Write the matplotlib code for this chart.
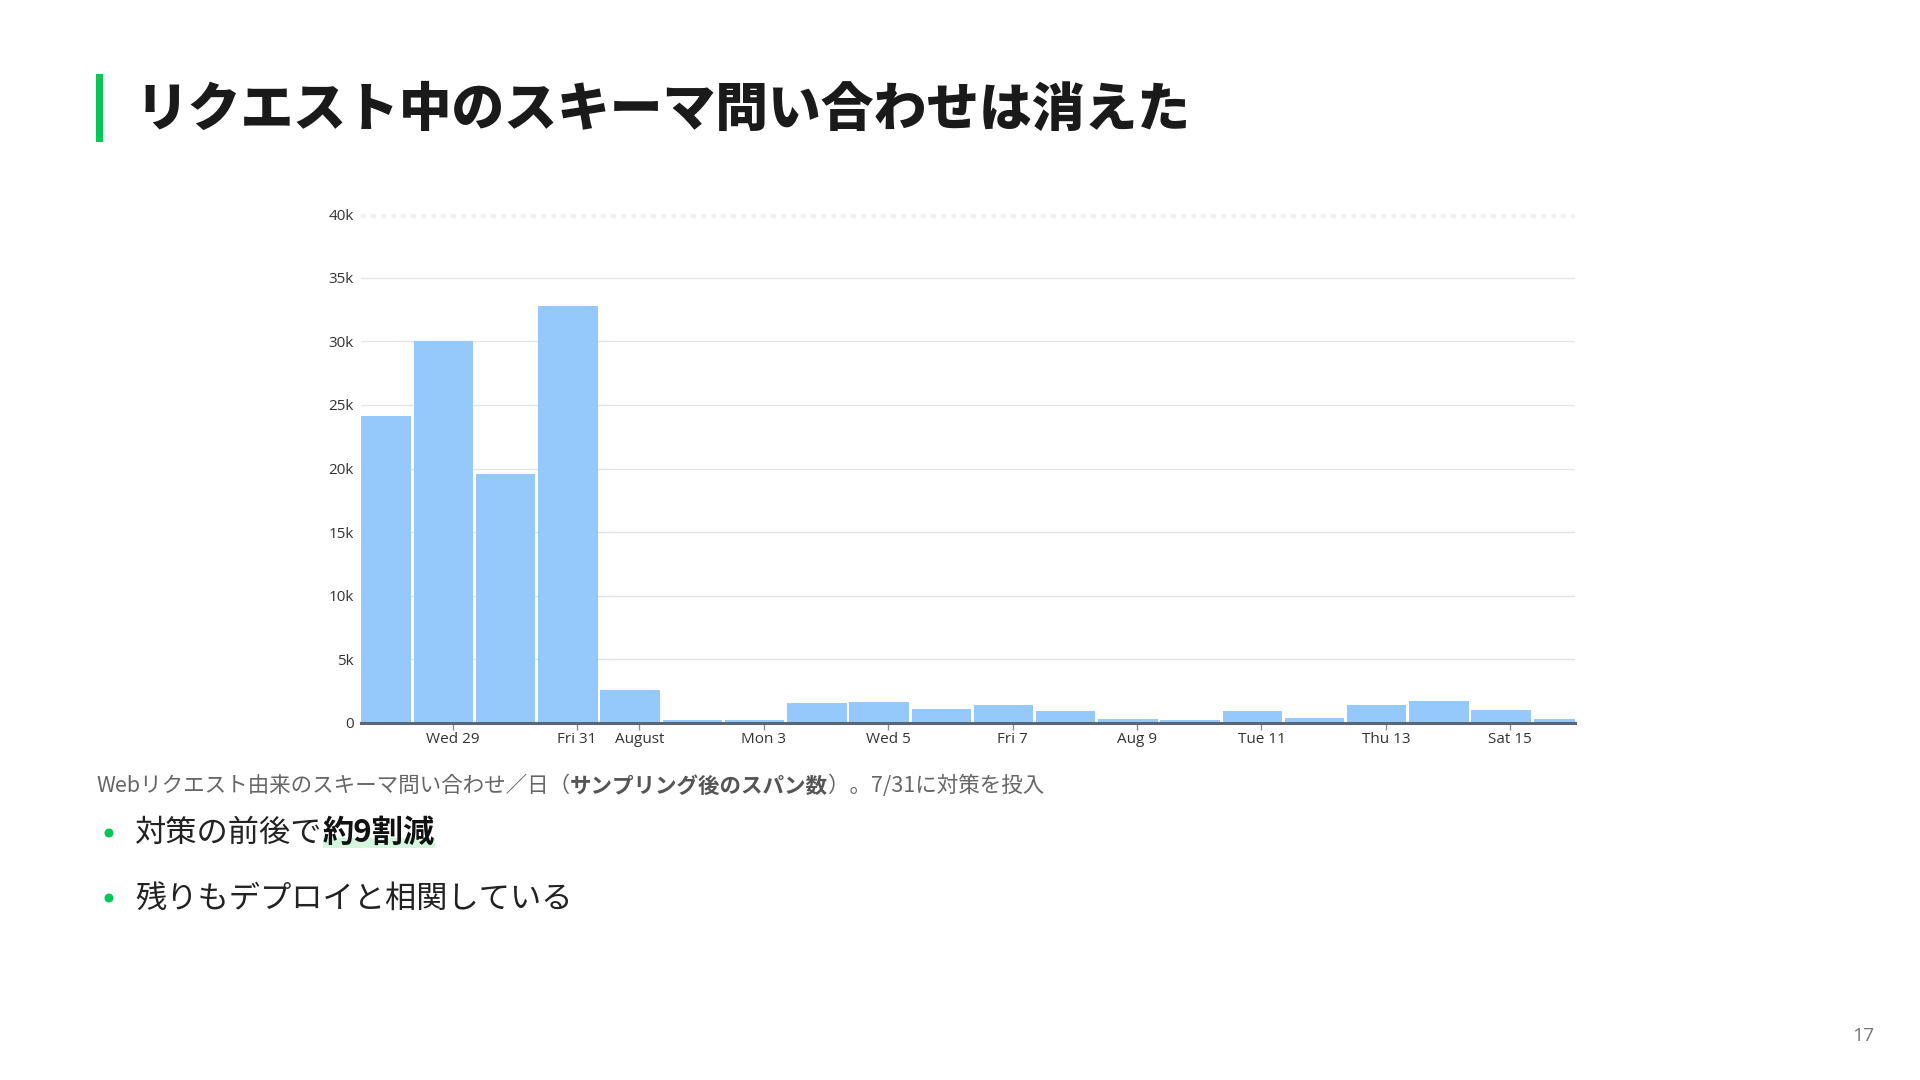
import matplotlib
matplotlib.use("Agg")
import matplotlib.pyplot as plt
from matplotlib.patches import Rectangle, Ellipse
from datetime import datetime, timedelta

# ---------------- data ----------------
bucket_starts = [
    "2020-07-27 09:00", "2020-07-28 09:00", "2020-07-29 09:00", "2020-07-30 09:00",
    "2020-07-31 09:00", "2020-08-01 09:00", "2020-08-02 09:00", "2020-08-03 09:00",
    "2020-08-04 09:00", "2020-08-05 09:00", "2020-08-06 09:00", "2020-08-07 09:00",
    "2020-08-08 09:00", "2020-08-09 09:00", "2020-08-10 09:00", "2020-08-11 09:00",
    "2020-08-12 09:00", "2020-08-13 09:00", "2020-08-14 09:00", "2020-08-15 09:00",
]
span_counts = [24100, 30000, 19550, 32800, 2580, 210, 210, 1580, 1660, 1080,
               1390, 950, 290, 210, 950, 390, 1390, 1740, 1030, 320]

x_tick_dates = ["2020-07-29", "2020-07-31", "2020-08-01", "2020-08-03", "2020-08-05",
                "2020-08-07", "2020-08-09", "2020-08-11", "2020-08-13", "2020-08-15"]
x_tick_labels = ["Wed 29", "Fri 31", "August", "Mon 3", "Wed 5",
                 "Fri 7", "Aug 9", "Tue 11", "Thu 13", "Sat 15"]
y_ticks = [0, 5000, 10000, 15000, 20000, 25000, 30000, 35000, 40000]
y_tick_labels = ["0", "5k", "10k", "15k", "20k", "25k", "30k", "35k", "40k"]

title = "リクエスト中のスキーマ問い合わせは消えた"
caption_parts = [("Webリクエスト由来のスキーマ問い合わせ／日（", False),
                 ("サンプリング後のスパン数", True),
                 ("）。7/31に対策を投入", False)]
bullet1_parts = [("対策の前後で", False), ("約9割減", True)]
bullet2 = "残りもデプロイと相関している"
page_no = "17"

# ---------------- style ----------------
plt.rcParams['font.family'] = ['Noto Sans CJK JP', 'DejaVu Sans']
W, H = 1920, 1080
fig = plt.figure(figsize=(W / 100, H / 100), dpi=100)
fig.patch.set_facecolor("white")

def fx(px):
    return px / W

def fy(py):
    return 1 - py / H

BAR_COLOR = "#96c9fb"
AXIS_COLOR = "#5b6573"
GREEN = "#06c755"

ax = fig.add_axes([fx(361), fy(723), fx(1575 - 361), (723 - 214) / H])
starts = [datetime.strptime(s, "%Y-%m-%d %H:%M") for s in bucket_starts]
ax.bar(starts, span_counts, width=0.955, align="edge", color=BAR_COLOR, zorder=2)

x0 = datetime(2020, 7, 28) - timedelta(days=0.474)
x1 = datetime(2020, 7, 28) + timedelta(days=19.04)
ax.set_xlim(x0, x1)
ax.set_ylim(0, 40000)

ax.set_yticks(y_ticks)
ax.set_yticklabels(y_tick_labels)
ticks = [datetime.strptime(s, "%Y-%m-%d") for s in x_tick_dates]
ax.set_xticks(ticks)
ax.set_xticklabels(x_tick_labels)

for s in ["top", "right", "left"]:
    ax.spines[s].set_visible(False)
ax.spines["bottom"].set_color(AXIS_COLOR)
ax.spines["bottom"].set_linewidth(2.2)
ax.spines["bottom"].set_zorder(3)

ax.tick_params(axis="y", length=0, pad=5, labelsize=11, labelcolor="#333333")
ax.tick_params(axis="x", length=5, width=1, color="#8a8f96", pad=1.5,
               labelsize=11, labelcolor="#333333")
for lab in ax.get_xticklabels() + ax.get_yticklabels():
    lab.set_fontfamily(["Open Sans", "DejaVu Sans"])

ax.grid(axis="y", color="#e4e4e4", linewidth=1, zorder=0)
ax.set_axisbelow(True)
gl = ax.get_ygridlines()
gl[-1].set_linestyle((0, (0.6, 0.6)))
gl[-1].set_color("#f1f1f1")
gl[-1].set_linewidth(6)

# ---------------- slide text ----------------
fig.add_artist(Rectangle((fx(95.5), fy(142)), fx(7), (142 - 73.5) / H,
                         transform=fig.transFigure, color=GREEN, lw=0))
fig.text(fx(136), fy(110), title, fontsize=38, fontweight=900, color="#1a1a1a",
         va="center", ha="left")

renderer = fig.canvas.get_renderer()

def seq_text(x_px, y_px, parts, size, normal_color, bold_color, va="center"):
    boxes = []
    x = x_px
    for s, bold in parts:
        t = fig.text(fx(x), fy(y_px), s, fontsize=size,
                     fontweight="bold" if bold else "normal",
                     color=bold_color if bold else normal_color,
                     va=va, ha="left")
        bb = t.get_window_extent(renderer)
        boxes.append(bb)
        x = bb.x1
    return boxes

seq_text(96, 786, caption_parts, 15.5, "#666666", "#555555")

# bullet 1 with highlight
b1 = seq_text(135, 833, bullet1_parts, 22.5, "#222222", "#111111")
hb = b1[1]
hl = Rectangle((hb.x0 / W, fy(848)), (hb.x1 - hb.x0) / W, 10 / H,
               transform=fig.transFigure, color="#d6f5df", lw=0, zorder=0)
fig.add_artist(hl)

fig.text(fx(135), fy(899), bullet2, fontsize=22.5, color="#222222",
         va="center", ha="left")

for cy in (833, 898):
    fig.add_artist(Ellipse((fx(109), fy(cy)), 9 / W, 9 / H,
                           transform=fig.transFigure, color=GREEN, lw=0))

fig.text(fx(1863), fy(1036), page_no, fontsize=14, color="#777777",
         ha="center", va="center", fontfamily=["Open Sans", "DejaVu Sans"])

fig.savefig("out.png", dpi=100, facecolor="white")
